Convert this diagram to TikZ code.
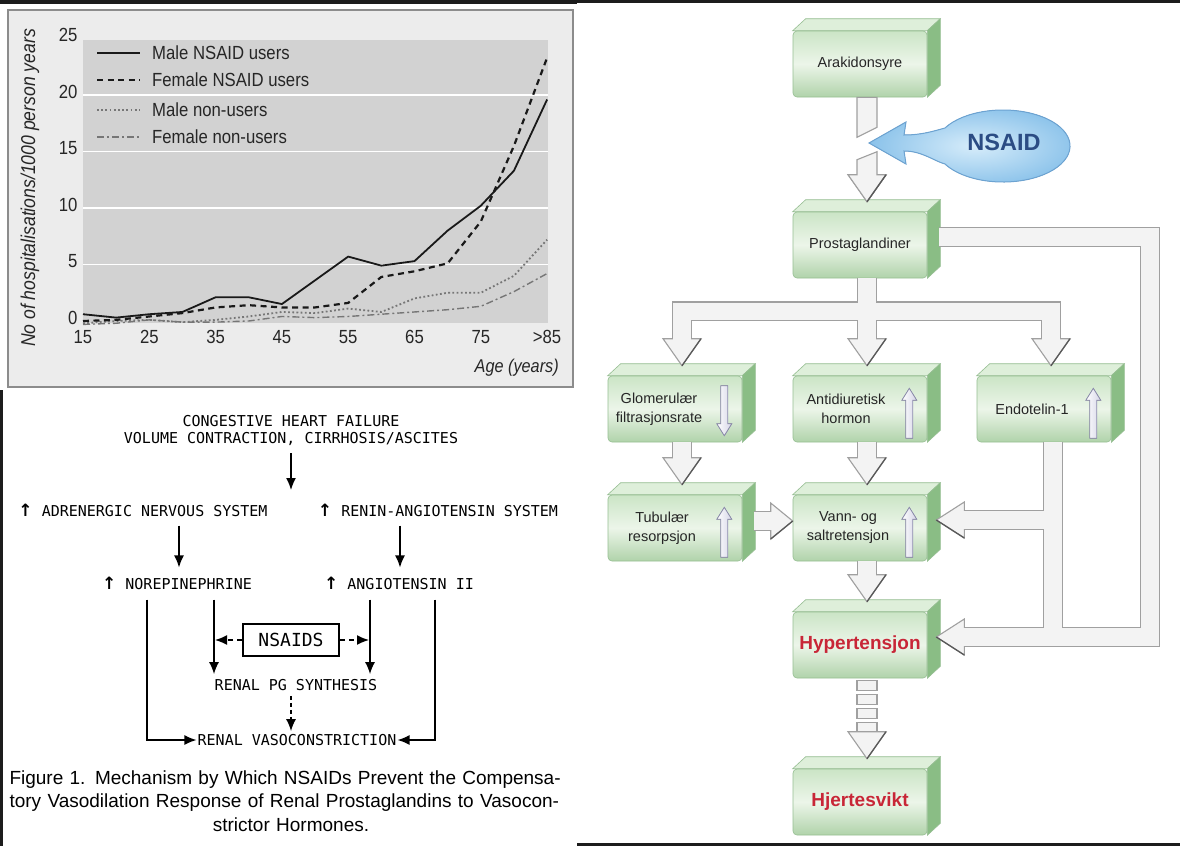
\documentclass[tikz,border=0pt]{standalone}
\usepackage{fontspec}
\setmainfont{Liberation Sans}
\newfontfamily\chartfont[FakeStretch=0.88]{Liberation Sans}
\newfontfamily\flowfont{DejaVu Sans Mono}
\newfontfamily\upfont{DejaVu Sans}
\usetikzlibrary{arrows.meta, backgrounds}
\definecolor{darkbar}{RGB}{28, 28, 28}
\definecolor{chartbg}{RGB}{236, 236, 236}
\definecolor{plotbg}{RGB}{210, 210, 210}
\definecolor{framegrey}{RGB}{140, 140, 140}
\definecolor{nonuser}{RGB}{118, 118, 118}
\definecolor{gtop}{RGB}{203, 229, 198}
\definecolor{gmid}{RGB}{236, 245, 233}
\definecolor{gbot}{RGB}{176, 211, 170}
\definecolor{gside}{RGB}{138, 189, 133}
\definecolor{gtopface}{RGB}{222, 239, 218}
\definecolor{gline}{RGB}{150, 190, 146}
\definecolor{pipeline}{RGB}{160, 160, 160}
\definecolor{pipefill}{RGB}{243, 243, 243}
\definecolor{indline}{RGB}{140, 140, 172}
\definecolor{indfill}{RGB}{212, 212, 230}
\definecolor{nsaidblue}{RGB}{43, 76, 132}
\definecolor{balloonin}{RGB}{214, 236, 250}
\definecolor{balloonout}{RGB}{138, 194, 234}
\definecolor{balloonline}{RGB}{108, 163, 210}
\definecolor{hypred}{RGB}{200, 38, 55}

\newcommand{\up}{{\upfont\bfseries\fontsize{17}{17}\selectfont ↑}}
\newcommand{\headdown}[1]{%
  \filldraw[blockhead] (#1) -- ++(-19,-27) -- ++(38,0) -- cycle;
  \draw[headedge] (#1) -- ++(19,-27);}
\newcommand{\headleft}[1]{%
  \filldraw[blockhead] (#1) -- ++(28,-18) -- ++(0,36) -- cycle;
  \draw[headedge] (#1) -- ++(28,18);}
\newcommand{\headright}[1]{%
  \filldraw[blockhead] (#1) -- ++(-22,-18) -- ++(0,36) -- cycle;
  \draw[headedge] (#1) -- ++(-22,18);}
% all block-arrow shafts, drawn once per pass
\newcommand{\pipenet}[1]{%
  \draw[#1] ([xshift=7pt]prost.south) -- ([xshift=7pt,yshift=35pt]adh.north);
  \draw[#1] ([xshift=7pt,yshift=35pt]glom.north) |- (bar) -| ([xshift=7pt,yshift=35pt]endo.north);
  \draw[#1] ([xshift=7pt]glom.south) -- ([xshift=7pt,yshift=35pt]tub.north);
  \draw[#1] ([xshift=7pt]adh.south) -- ([xshift=7pt,yshift=35pt]vann.north);
  \draw[#1] ([xshift=7pt]vann.south) -- ([xshift=7pt,yshift=35pt]hyp.north);
  \draw[#1] ([xshift=12pt,yshift=7pt]tub.east) -- ([xshift=-20pt,yshift=7pt]vann.west);
  \draw[#1] ([xshift=9pt]endo.south) |- ([xshift=34pt,yshift=8pt]hyp.east);
  \draw[#1] ([xshift=34pt,yshift=8pt]vann.east) -| ([xshift=9pt]endo.south);
  \draw[#1] ([xshift=12pt,yshift=8pt]prost.east) -| (fbbot) -- ([xshift=34pt,yshift=8pt]hyp.east);}

\begin{document}
\begin{tikzpicture}[
   x=1pt, y=-1pt,
   ticklab/.style={font=\chartfont\fontsize{19}{20}\selectfont, text=black!85, inner sep=0pt},
   legtext/.style={font=\chartfont\fontsize{19}{20}\selectfont, text=black!85, anchor=west, inner sep=0pt},
   maleuse/.style={black!90, line width=1.8pt, line join=round},
   femaleuse/.style={black!90, line width=2.2pt, dash pattern=on 6pt off 4.5pt},
   malenon/.style={nonuser, line width=1.8pt, dash pattern=on 1.8pt off 2.4pt},
   femalenon/.style={nonuser, line width=1.4pt, dash pattern=on 7pt off 3pt on 2pt off 3pt},
   flowtext/.style={font=\flowfont\fontsize{15}{17}\selectfont, inner sep=1pt, align=center},
   flowarr/.style={-{Latex[length=12pt, width=10pt]}, line width=1.5pt},
   nsaidsbox/.style={draw, line width=1.6pt, minimum width=96pt, minimum height=32pt,
                     font=\flowfont\fontsize{18}{20}\selectfont},
   greenbox/.style={rectangle, rounded corners=4pt, minimum width=134pt, minimum height=66pt,
                    inner sep=0pt, draw=gline, line width=0.6pt,
                    top color=gtop, bottom color=gbot, middle color=gmid},
   topface/.style={fill=gtopface, draw=gline, line width=0.6pt},
   sideface/.style={fill=gside, draw=gline, line width=0.6pt},
   boxtext/.style={font=\fontsize{14.5}{19}\selectfont, align=center, text=black!85},
   redtext/.style={font=\bfseries\fontsize{19}{22}\selectfont, text=hypred},
   pipeout/.style={draw=pipeline, line width=20pt},
   pipein/.style={draw=pipefill, line width=17.4pt},
   blockhead/.style={fill=pipefill, draw=pipeline, line width=1.1pt, line join=miter},
   headedge/.style={draw=black!65, line width=1.3pt},
   indarr/.style={left color=white, right color=indfill, draw=indline, line width=0.8pt},
   balloon/.style={inner color=balloonin, outer color=balloonout, draw=balloonline, line width=1pt},
   nsaidtext/.style={font=\bfseries\fontsize{23.5}{26}\selectfont, text=nsaidblue}
  ]

  \begin{pgfonlayer}{background}
    \fill[white] (0,0) rectangle (1180,846);
  \end{pgfonlayer}
  \useasboundingbox (0,0) rectangle (1180,846);

  % page edges
  \fill[darkbar] (0,0) rectangle (577,4);
  \fill[darkbar] (577,0) rectangle (1180,3);
  \fill[darkbar] (0,390) rectangle (2.5,846);
  \fill[darkbar] (577,843) rectangle (1180,846);

  % ---------------- chart ----------------
  \draw[framegrey, line width=2pt, fill=chartbg] (8,10) rectangle (573,387);
  \fill[plotbg] (83,40) rectangle (548,323);

  \node[ticklab, rotate=90, font=\chartfont\itshape\fontsize{20}{22}\selectfont] (ylab) at (30,188)
    {No of hospitalisations/1000 person years};
  \node[ticklab, font=\chartfont\itshape\fontsize{18.5}{20}\selectfont, anchor=east] (xlab) at (559,368)
    {Age (years)};

  \begin{scope}[shift={(-16.45,321)}, x=6.63pt, y=11.3pt]
    \foreach \V in {5,10,15,20} {
      \draw[white, line width=1.5pt] (15,\V) -- (85.2,\V);
    }
    \foreach \V in {0,5,...,25} {
      \node[ticklab, anchor=east] at (14.2,\V+0.3) {\V};
    }
    \foreach \A in {15,25,...,75} {
      \node[ticklab] at (\A,-1.4) {\A};
    }
    \node[ticklab] at (85,-1.4) {>85};

    \draw[femalenon] plot coordinates {(15,-0.3) (20,-0.2) (25,0.1) (30,-0.1) (35,-0.1) (40,0.0)
      (45,0.4) (50,0.3) (55,0.4) (60,0.6) (65,0.8) (70,1.0) (75,1.3) (80,2.6) (85,4.2)};
    \draw[malenon] plot coordinates {(15,-0.2) (20,0.0) (25,0.1) (30,-0.1) (35,0.1) (40,0.4)
      (45,0.8) (50,0.7) (55,1.1) (60,0.8) (65,2.0) (70,2.5) (75,2.5) (80,4.0) (85,7.2)};
    \draw[femaleuse] plot coordinates {(15,0.0) (20,0.1) (25,0.4) (30,0.7) (35,1.2) (40,1.4)
      (45,1.2) (50,1.2) (55,1.6) (60,3.9) (65,4.4) (70,5.1) (75,8.8) (80,15.5) (85,23.3)};
    \draw[maleuse] plot coordinates {(15,0.6) (20,0.3) (25,0.6) (30,0.8) (35,2.1) (40,2.1)
      (45,1.5) (50,3.6) (55,5.7) (60,4.9) (65,5.3) (70,8.0) (75,10.2) (80,13.3) (85,19.6)};
  \end{scope}

  % legend
  \draw[maleuse] (97,53) -- (140,53);
  \draw[femaleuse] (97,80) -- (140,80);
  \draw[malenon] (97,110) -- (140,110);
  \draw[femalenon] (97,137) -- (140,137);
  \node[legtext] (legA) at (152,53) {Male NSAID users};
  \node[legtext] (legB) at (152,80) {Female NSAID users};
  \node[legtext] (legC) at (152,110) {Male non-users};
  \node[legtext] (legD) at (152,137) {Female non-users};

  % ---------------- mechanism ----------------
  \node[flowtext] (chf) at (291,430) {CONGESTIVE HEART FAILURE\\VOLUME CONTRACTION, CIRRHOSIS/ASCITES};
  \coordinate (split) at (291,490);
  \node[flowtext] (ans) at (143,510) {\up\ ADRENERGIC NERVOUS SYSTEM};
  \node[flowtext] (ras) at (438,510) {\up\ RENIN-ANGIOTENSIN SYSTEM};
  \node[flowtext] (nor) at (177,583) {\up\ NOREPINEPHRINE};
  \node[flowtext] (ang) at (399,583) {\up\ ANGIOTENSIN II};
  \node[nsaidsbox] (nsaids) at (291,640) {NSAIDS};
  \node[flowtext] (pg) at (296,685) {RENAL PG SYNTHESIS};
  \node[flowtext] (rv) at (297,740) {RENAL VASOCONSTRICTION};

  \coordinate (nl) at ([xshift=37pt]nor.south);
  \coordinate (nr) at ([xshift=-29pt]ang.south);

  \draw[flowarr, shorten <=7pt] (chf.south) -- (split);
  \draw[flowarr, shorten <=8pt, shorten >=8pt] ([xshift=36pt]ans.south) -- ([xshift=36pt]ans.south |- nor.north);
  \draw[flowarr, shorten <=8pt, shorten >=8pt] ([xshift=-38pt]ras.south) -- ([xshift=-38pt]ras.south |- ang.north);
  \draw[flowarr, shorten <=9pt] ([xshift=-30pt]nor.south) |- (rv.west);
  \draw[flowarr, shorten <=9pt] ([xshift=36pt]ang.south) |- (rv.east);
  \foreach \B in {nl, nr} {
    \draw[flowarr, shorten <=9pt, shorten >=4pt] (\B) -- (\B |- pg.north);
  }
  \draw[flowarr, dash pattern=on 5pt off 4pt, shorten >=1pt] (nsaids.west) -- (nsaids.west -| nl);
  \draw[flowarr, dash pattern=on 5pt off 4pt, shorten >=1pt] (nsaids.east) -- (nsaids.east -| nr);
  \draw[flowarr, dash pattern=on 4pt off 3pt, shorten <=4pt, shorten >=2pt] (nsaids.south |- pg.south) -- (nsaids.south |- rv.north);

  \node[text width=563pt, align=center, inner sep=0pt, font=\fontsize{19}{23.5}\selectfont] (caption) at (291,801)
    {\makebox[\linewidth][s]{Figure 1. Mechanism by Which NSAIDs Prevent the Compensa-}\\
     \makebox[\linewidth][s]{tory Vasodilation Response of Renal Prostaglandins to Vasocon-}\\
     strictor Hormones.};

  % ---------------- renal flow ----------------
  \node[greenbox, boxtext] (arak) at (860,64) {Arakidonsyre};
  \node[greenbox, boxtext] (prost) at (860,245) {Prostaglandiner};
  \node[greenbox, label={[boxtext, xshift=-16pt]center:Glomerulær\\filtrasjonsrate}] (glom) at (675,409) {};
  \node[greenbox, label={[boxtext, xshift=-14pt]center:Antidiuretisk\\hormon}] (adh) at (860,409) {};
  \node[greenbox, label={[boxtext, xshift=-12pt]center:Endotelin-1}] (endo) at (1044,409) {};
  \node[greenbox, label={[boxtext, xshift=-13pt]center:Tubulær\\resorpsjon}] (tub) at (675,528) {};
  \node[greenbox, label={[boxtext, xshift=-12pt]center:Vann- og\\saltretensjon}] (vann) at (860,528) {};
  \node[greenbox, redtext] (hyp) at (860,645) {Hypertensjon};
  \node[greenbox, redtext] (hjerte) at (860,802) {Hjertesvikt};

  \begin{pgfonlayer}{background}
    \foreach \N in {arak, prost, glom, adh, endo, tub, vann, hyp, hjerte} {
      \filldraw[topface] (\N.north west) -- ++(13,-12) -- ([xshift=13pt,yshift=12pt]\N.north east) -- (\N.north east) -- cycle;
      \filldraw[sideface] (\N.north east) -- ++(13,-12) -- ([xshift=13pt,yshift=12pt]\N.south east) -- (\N.south east) -- cycle;
    }
  \end{pgfonlayer}

  % level arrows in the boxes
  \foreach \N in {adh, endo, tub, vann} {
    \filldraw[indarr] ([xshift=-21.5pt,yshift=4pt]\N.south east) -- ++(0,-38) -- ++(-4,0) -- ++(7.5,-12)
      -- ++(7.5,12) -- ++(-4,0) -- ++(0,38) -- cycle;
  }
  \filldraw[indarr] ([xshift=-21.5pt,yshift=-10pt]glom.north east) -- ++(0,38) -- ++(-4,0) -- ++(7.5,12)
    -- ++(7.5,-12) -- ++(-4,0) -- ++(0,-38) -- cycle;

  \coordinate (bar) at ([xshift=7pt,yshift=-33pt]prost.south);
  \coordinate (fbbot) at (1150,637);

  % pipes: outline, heads, inside
  \pipenet{pipeout}
  \foreach \E in {prost, glom, adh, endo, tub, vann, hyp} {
    \headdown{[xshift=7pt,yshift=10pt]\E.north}
  }
  \headleft{[xshift=9pt,yshift=8pt]vann.east}
  \headleft{[xshift=9pt,yshift=8pt]hyp.east}
  \headright{[yshift=7pt]vann.west}
  \pipenet{pipein}

  % cut shaft under Arakidonsyre
  \filldraw[blockhead] ([xshift=-3pt]arak.south) -- ++(0,40) -- ++(20,-10) -- ([xshift=17pt]arak.south) -- cycle;
  \filldraw[blockhead] ([xshift=-3pt,yshift=52pt]prost.north) -- ([xshift=17pt,yshift=60pt]prost.north)
    -- ([xshift=17pt,yshift=37pt]prost.north) -- ([xshift=26pt,yshift=37pt]prost.north)
    -- ([xshift=7pt,yshift=10pt]prost.north) -- ([xshift=-12pt,yshift=37pt]prost.north)
    -- ([xshift=-3pt,yshift=37pt]prost.north) -- cycle;
  \draw[headedge] ([xshift=7pt,yshift=10pt]prost.north) -- ([xshift=26pt,yshift=37pt]prost.north);

  % dashed shaft to Hjertesvikt
  \foreach \K in {0,...,3} {
    \filldraw[blockhead] ([xshift=-3pt,yshift={-2pt-\K*14pt}]hyp.south) rectangle ++(20,10);
  }
  \headdown{[xshift=7pt,yshift=10pt]hjerte.north}

  % NSAID balloon
  \filldraw[balloon] (869,143) -- (906,122) -- (904,135) .. controls (922,135) and (934,131) .. (945,128)
    arc[start angle=150, end angle=-150, x radius=67pt, y radius=36pt]
    .. controls (934,161) and (922,151) .. (904,151) -- (906,164) -- cycle;
  \node[nsaidtext] (nsaid) at (1004,142) {NSAID};
\end{tikzpicture}
\end{document}
